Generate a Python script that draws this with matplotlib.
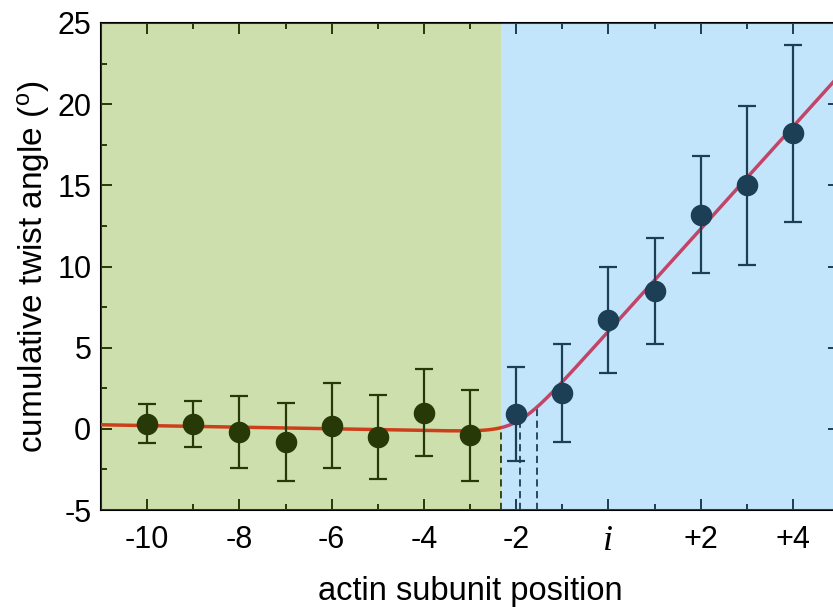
import matplotlib.pyplot as plt
import numpy as np

plt.rcParams['font.family'] = ['Liberation Sans', 'DejaVu Sans']
plt.rcParams['mathtext.default'] = 'regular'

# measured twist per subunit position (i = 0)
positions = [-10, -9, -8, -7, -6, -5, -4, -3, -2, -1, 0, 1, 2, 3, 4]
twist = [0.3, 0.3, -0.2, -0.8, 0.2, -0.5, 1.0, -0.4, 0.9, 2.2, 6.7, 8.5, 13.2, 15.0, 18.2]
twist_err = [1.2, 1.4, 2.2, 2.4, 2.6, 2.6, 2.7, 2.8, 2.9, 3.0, 3.25, 3.25, 3.6, 4.9, 5.45]

# softplus fit: offset, baseline slope, ramp slope, onset, width
fit_offset = -0.3
fit_base_slope = -0.05
fit_ramp_slope = 3.2
fit_onset = -1.97
fit_width = 0.3

boundary = -2.32
onset_marks = [-2.32, -1.92, -1.54]

tick_pos = [-10, -8, -6, -4, -2, 0, 2, 4]
tick_text = ['-10', '-8', '-6', '-4', '-2', 'i', '+2', '+4']
ytick_pos = [-5, 0, 5, 10, 15, 20, 25]


def fit_curve(x):
    x = np.asarray(x, dtype=float)
    ramp = fit_width * np.log1p(np.exp((x - fit_onset) / fit_width))
    return fit_offset + fit_base_slope * x + fit_ramp_slope * ramp


def main():
    fig = plt.figure(figsize=(8.33, 6.07), dpi=100)
    ax = fig.add_axes([101 / 833, 97 / 607, 738 / 833, 487 / 607])

    xs = np.linspace(-11, 5, 600)
    ax.plot(xs, fit_curve(xs), color='#ff0a1e', lw=2.5, zorder=3)

    for xm in onset_marks:
        ax.plot([xm, xm], [-5, fit_curve(xm)], color='black', lw=1.3,
                ls=(0, (4, 2.5)), zorder=2)

    ax.errorbar(positions, twist, yerr=twist_err, fmt='o', color='black',
                ms=14.5, elinewidth=1.6, capsize=6.5, capthick=1.6, zorder=4)

    # translucent regions laid over everything in the plot area
    ax.axvspan(-11, boundary, color='#70a415', alpha=0.35, lw=0, zorder=10)
    ax.axvspan(boundary, 5, color='#51b5f4', alpha=0.35, lw=0, zorder=10)

    ax.set_xlim(-11, 5)
    ax.set_ylim(-5, 25)
    ax.set_xticks(tick_pos)
    ax.set_xticklabels(tick_text)
    ax.set_xticks(np.arange(-11, 5), minor=True)
    ax.set_yticks(ytick_pos)
    ax.set_yticklabels([str(v) for v in ytick_pos])
    ax.set_yticks(np.arange(-5, 25, 2.5), minor=True)

    ax.tick_params(which='both', direction='in', top=True, right=True,
                   width=1.4, labelsize=22)
    ax.tick_params(which='major', length=8)
    ax.tick_params(which='minor', length=4)
    ax.tick_params(axis='x', pad=11)
    ax.tick_params(axis='y', pad=7)

    lab = ax.get_xticklabels()[5]
    lab.set_fontfamily('Liberation Serif')
    lab.set_fontstyle('italic')
    lab.set_fontsize(26)

    for sp in ax.spines.values():
        sp.set_linewidth(1.5)

    ax.set_xlabel('actin subunit position', fontsize=23.5, labelpad=13)
    ax.set_ylabel('cumulative twist angle ($^{o}$)', fontsize=24, labelpad=4)

    fig.savefig('out.png', dpi=100)


if "__main__" == __name__:
    main()
